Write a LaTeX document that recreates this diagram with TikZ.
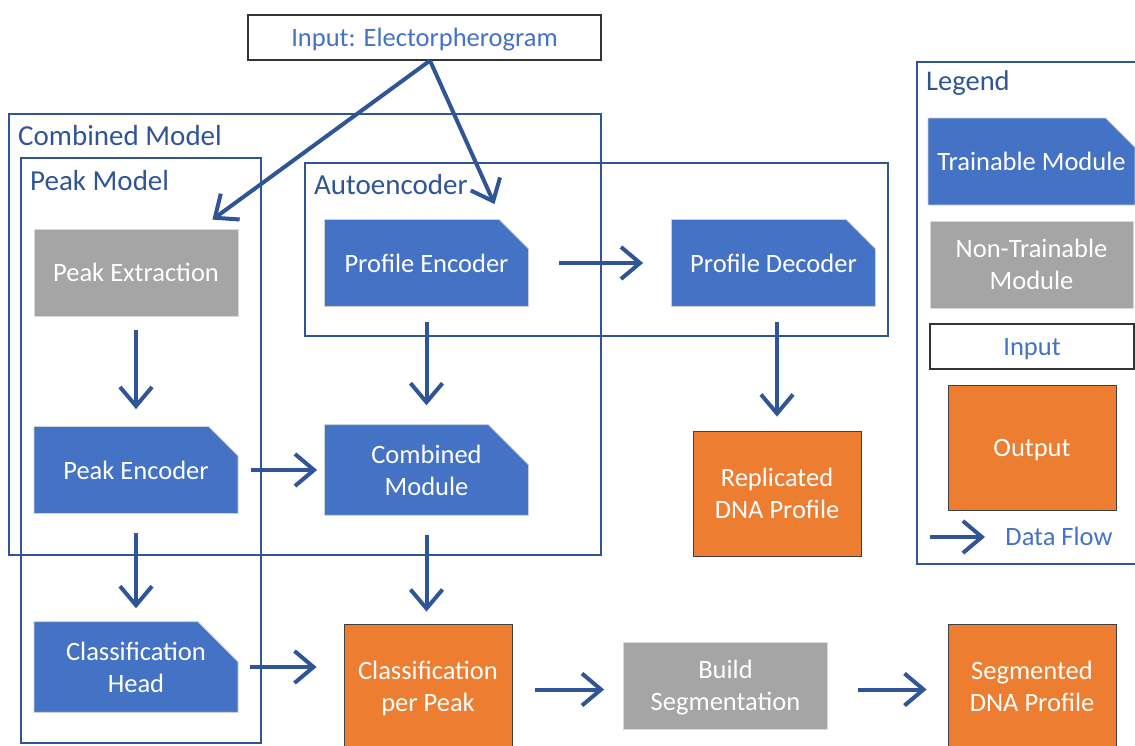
\documentclass[tikz,border=0pt]{standalone}
\usepackage{fontspec}
\setmainfont{Carlito}
\usetikzlibrary{arrows.meta,shapes.misc,calc}
\definecolor{frameblue}{HTML}{2F5597}
\definecolor{modblue}{HTML}{4472C4}
\definecolor{modgray}{HTML}{A5A5A5}
\definecolor{outorange}{HTML}{ED7D31}
\tikzset{
  base/.style={font=\fontsize{26.5}{32}\selectfont, align=center, text=white, inner sep=0pt},
  flat/.style={text depth=0pt},
  trainable/.style={base, chamfered rectangle, chamfered rectangle corners=north east,
    chamfered rectangle xsep=20pt, chamfered rectangle ysep=20pt,
    fill=modblue, draw=black!18, line width=0.8pt, minimum width=204pt, minimum height=87pt},
  fixed/.style={base, rectangle, fill=modgray, draw=black!15, line width=0.8pt,
    minimum width=204pt, minimum height=87pt},
  outbox/.style={base, rectangle, fill=outorange, draw=black!75, line width=0.8pt,
    minimum width=168pt, minimum height=125pt},
  inbox/.style={base, rectangle, fill=white, draw=black!80, line width=1.2pt, text=modblue},
  frame/.style={draw=frameblue, line width=2pt},
  framelabel/.style={font=\fontsize{29}{34}\selectfont, text=frameblue, anchor=west, inner sep=0pt},
  flow/.style={draw=frameblue, line width=4pt, -{Straight Barb[length=19pt,width=32pt]}},
}
\begin{document}
\begin{tikzpicture}[x=1pt, y=-1pt]
\useasboundingbox (0,0) rectangle (1135,745);
\clip (0,0) rectangle (1135,745);

% container frames
\draw[frame] (9,114) rectangle (601,555);
\node[framelabel] (lcomb) at (18,136) {Combined Model};
\draw[frame] (21,158) rectangle (261,743);
\node[framelabel] (lpeak) at (30,181) {Peak Model};
\draw[frame] (305,163) rectangle (888,336);
\node[framelabel] (lauto) at (314,185) {Autoencoder};

% input
\node[inbox, flat, minimum width=353pt, minimum height=45pt] (input) at (424.5,37.5) {Input: Electorpherogram};

% modules
\node[fixed] (pext) at (136,272.5) {Peak Extraction};
\node[trainable] (penc) at (136,470) {Peak Encoder};
\node[trainable] (chead) at (136,667) {Classification\\Head};
\node[trainable] (prenc) at (426.5,263) {Profile Encoder};
\node[trainable] (prdec) at (773.5,263) {Profile Decoder};
\node[trainable] (cmod) at (426.5,470) {Combined\\Module};
\node[outbox] (repl) at (777,493.5) {Replicated\\DNA Profile};
\node[outbox] (cpp) at (428,686.5) {Classification\\\smash{per Peak}};
\node[fixed] (build) at (725.5,685.5) {Build\\\smash{Segmentation}};
\node[outbox] (segm) at (1032,686.5) {Segmented\\DNA Profile};

% data flow
\coordinate (src) at ($(input.south)+(5.5,0)$);
\draw[flow] (src) -- ($(pext.north east)+(-26,-9)$);
\draw[flow] (src) -- ($(prenc.north)+(68,-15)$);
\draw[flow, shorten <=14pt, shorten >=17pt] (pext.south) -- (penc.north);
\draw[flow, shorten <=19pt, shorten >=13pt] (penc.south) -- (chead.north);
\draw[flow, shorten <=13pt, shorten >=7pt] (penc.east) -- (cmod.west);
\draw[flow, shorten <=15pt, shorten >=19pt] (prenc.south) -- (cmod.north);
\draw[flow, shorten <=30pt, shorten >=28pt] (prenc.east) -- (prdec.west);
\draw[flow, shorten <=19pt, shorten >=12pt] (cmod.south) -- (cmod.south |- cpp.north);
\draw[flow, shorten <=15pt, shorten >=14pt] (repl.north |- prdec.south) -- (repl.north);
\draw[flow, shorten <=12pt, shorten >=27pt] (chead.east) -- (chead.east -| cpp.west);
\draw[flow, shorten <=23pt, shorten >=19pt] ($(cpp.east)+(0,3)$) -- ($(build.west)+(0,4)$);
\draw[flow, shorten <=30pt, shorten >=21pt] ($(build.east)+(0,4)$) -- ($(segm.west)+(0,3)$);

% legend
\draw[draw=frameblue, line width=1.5pt] (917,62) rectangle (1140,564);
\node[framelabel, font=\fontsize{28.5}{34}\selectfont] (lleg) at (926,83) {Legend};
\node[trainable, minimum width=203pt] (ltrain) at (1031.5,161.5) {Trainable Module};
\node[fixed, minimum width=203pt] (lfixed) at (1031.5,264.5) {Non-Trainable\\Module};
\node[inbox, flat, minimum width=204pt, minimum height=45pt] (linput) at (1032,346.5) {Input};
\node[outbox, flat] (lout) at (1032,447.5) {Output};
\coordinate (lfa) at (930,537);
\node[base, text=modblue] (lflow) at (1059,536) {Data Flow};
\draw[flow] (lfa) -- ($(lfa)+(55,0)$);
\end{tikzpicture}
\end{document}
